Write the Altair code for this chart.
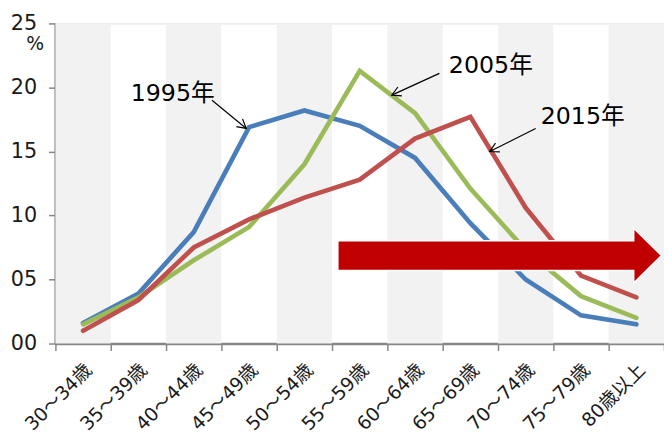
import json
import math
import altair as alt
import pandas as pd

# ---------------- data ----------------
categories = ["30～34歳", "35～39歳", "40～44歳", "45～49歳", "50～54歳", "55～59歳",
              "60～64歳", "65～69歳", "70～74歳", "75～79歳", "80歳以上"]
series_names = ["1995年", "2005年", "2015年"]
v1995 = [1.6, 3.9, 8.7, 16.9, 18.2, 17.0, 14.5, 9.4, 5.0, 2.2, 1.5]
v2005 = [1.5, 3.6, 6.5, 9.1, 14.0, 21.3, 18.0, 12.1, 7.3, 3.7, 2.0]
v2015 = [1.0, 3.4, 7.5, 9.7, 11.4, 12.8, 16.0, 17.7, 10.6, 5.3, 3.6]
y_ticks = [0, 5, 10, 15, 20, 25]

# annotation anchors (in data units: category index, percent)
label_x = [1.62, 7.37, 9.03]
label_y = [19.5, 21.65, 17.67]
arrow_from_x = [2.33, 6.44, 8.18]
arrow_from_y = [19.0, 21.1, 16.8]
arrow_to_x = [2.95, 5.58, 7.35]
arrow_to_y = [16.8, 19.4, 15.0]
big_arrow_x = [7.53]
big_arrow_y = [6.87]

# ---------------- styles ----------------
colors = ["#4A7EBB", "#9BBB59", "#C0504D"]
W, H = 616, 324
FONT = "DejaVu Sans, Noto Sans CJK JP"
AXIS_GRAY = "#868686"
n = len(categories)
px_x = W / n
px_y = H / (y_ticks[-1] - y_ticks[0])
BIG_ARROW_LEN = 330 * px_x / 56.4

# ---------------- tables ----------------
rows = []
for name, vals in zip(series_names, [v1995, v2005, v2015]):
    for i, v in enumerate(vals):
        rows.append({"series": name, "idx": i, "value": v})
lines_df = pd.DataFrame(rows)

band_idx = list(range(0, n, 2))
bands_df = pd.DataFrame({
    "x0": [i - 0.5 for i in band_idx],
    "x1": [i + 0.5 for i in band_idx],
    "y0": [y_ticks[0]] * len(band_idx),
    "y1": [y_ticks[-1]] * len(band_idx),
})

angles = []
for x1, y1, x2, y2 in zip(arrow_from_x, arrow_from_y, arrow_to_x, arrow_to_y):
    a = math.degrees(math.atan2(-(y2 - y1) * px_y, (x2 - x1) * px_x)) % 360
    angles.append(a)

ann_df = pd.DataFrame({
    "label": series_names, "lx": label_x, "ly": label_y,
    "ax": arrow_from_x, "ay": arrow_from_y,
    "bx": arrow_to_x, "by": arrow_to_y, "ang": angles,
})
big_df = pd.DataFrame({"x": big_arrow_x, "y": big_arrow_y})

# ---------------- scales / axes ----------------
cat_js = json.dumps(categories, ensure_ascii=False)
x_scale = alt.Scale(domain=[-0.5, n - 0.5], nice=False, zero=False)
y_scale = alt.Scale(domain=[y_ticks[0], y_ticks[-1]], nice=False)

x_axis = alt.Axis(
    values=[i - 0.5 for i in range(n + 1)],
    labelExpr=f"{cat_js}[round(datum.value + 0.5)] || ''",
    labelOffset=px_x / 2 - 1, labelAngle=315, labelAlign="right", labelBaseline="top",
    labelPadding=10, labelFontSize=19, labelFont=FONT, labelColor="#1a1a1a",
    labelOverlap=False, labelFlush=False, labelBound=False,
    grid=False, title=None, domainColor=AXIS_GRAY, domainWidth=2.5,
    tickColor=AXIS_GRAY, tickWidth=1.5, tickSize=7,
)
y_axis = alt.Axis(
    values=y_ticks,
    labelExpr="datum.value < 10 ? '0' + datum.value : '' + datum.value",
    labelFontSize=21, labelFont=FONT, labelColor="#1a1a1a", labelPadding=12,
    grid=False, domainColor=AXIS_GRAY, domainWidth=3,
    tickColor=AXIS_GRAY, tickWidth=1.5, tickSize=7,
    title="%", titleAngle=0, titleX=-21, titleY=20, titleAlign="center",
    titleBaseline="middle", titleFontWeight="normal", titleFontSize=19,
    titleFont=FONT, titleColor="#1a1a1a",
)

# ---------------- layers ----------------
bands = alt.Chart(bands_df).mark_rect(color="#F2F2F2").encode(
    x=alt.X("x0:Q", scale=x_scale, axis=x_axis),
    x2="x1:Q",
    y=alt.Y("y0:Q", scale=y_scale, axis=y_axis),
    y2="y1:Q",
)

line_layers = []
for name, col in zip(series_names, colors):
    line_layers.append(
        alt.Chart(lines_df).transform_filter(alt.datum.series == name)
        .mark_line(color=col, strokeWidth=4.7, strokeCap="round")
        .encode(x=alt.X("idx:Q", scale=x_scale), y=alt.Y("value:Q", scale=y_scale))
    )

arrow_path = ("M-1,-0.092L0.828,-0.092L0.828,-0.169L1,0L0.828,0.169"
              "L0.828,0.092L-1,0.092Z")
big_arrow = alt.Chart(big_df).mark_point(
    shape=arrow_path, size=BIG_ARROW_LEN ** 2,
    filled=True, fill="#C00000", fillOpacity=1, stroke="white", strokeWidth=1.5, opacity=1,
).encode(x=alt.X("x:Q", scale=x_scale), y=alt.Y("y:Q", scale=y_scale))

ann_rules = alt.Chart(ann_df).mark_rule(color="black", strokeWidth=1.2).encode(
    x=alt.X("ax:Q", scale=x_scale), y=alt.Y("ay:Q", scale=y_scale),
    x2="bx:Q", y2="by:Q",
)
ann_heads = alt.Chart(ann_df).mark_point(
    shape="M-1,-0.55L0,0L-1,0.55", size=324, filled=False,
    stroke="black", strokeWidth=1.2, opacity=1,
).encode(
    x=alt.X("bx:Q", scale=x_scale), y=alt.Y("by:Q", scale=y_scale),
    angle=alt.Angle("ang:Q", scale=None),
)
ann_text = alt.Chart(ann_df).mark_text(
    font=FONT, fontSize=24, color="black", align="center", baseline="middle",
).encode(
    x=alt.X("lx:Q", scale=x_scale), y=alt.Y("ly:Q", scale=y_scale), text="label:N",
)

chart = alt.layer(bands, *line_layers, big_arrow, ann_rules, ann_heads, ann_text).properties(
    width=W, height=H,
    autosize=alt.AutoSizeParams(type="none"),
    padding={"left": 48, "top": 13, "right": 0, "bottom": 93},
).configure_view(stroke=None).configure(background="white")

chart.save("out.html", embed_options={"renderer": "svg", "actions": False})
